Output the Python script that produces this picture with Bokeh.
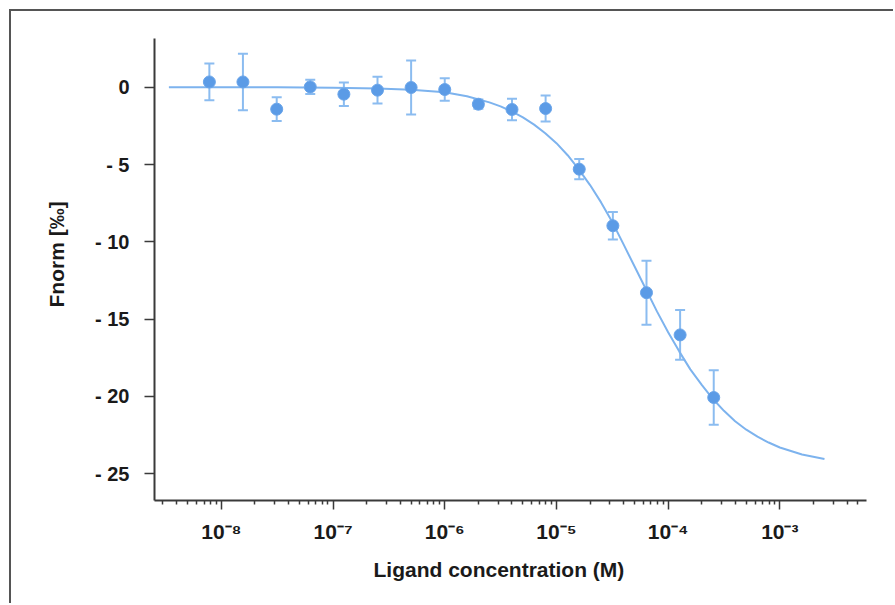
import math
from bokeh.plotting import figure
from bokeh.models import ColumnDataSource, Range1d, FixedTicker, Whisker, TeeHead, Title
from bokeh.embed import file_html
from bokeh.resources import INLINE

# ---- data ----
conc = [7.81e-9, 1.56e-8, 3.13e-8, 6.25e-8, 1.25e-7, 2.5e-7, 5e-7, 1e-6,
        2e-6, 4e-6, 8e-6, 1.6e-5, 3.2e-5, 6.4e-5, 1.28e-4, 2.56e-4]
fnorm = [0.34, 0.34, -1.42, 0.02, -0.45, -0.19, -0.02, -0.15,
         -1.10, -1.44, -1.38, -5.30, -8.96, -13.29, -16.02, -20.07]
err = [1.19, 1.83, 0.77, 0.46, 0.76, 0.86, 1.74, 0.73,
       0.30, 0.70, 0.84, 0.66, 0.89, 2.07, 1.61, 1.76]

fit_conc = [3.39e-9, 1e-8, 3.16e-8, 1e-7, 2.51e-7, 5.01e-7, 1e-6, 1.58e-6,
            2.51e-6, 3.16e-6, 3.98e-6, 5.01e-6, 6.31e-6, 7.94e-6, 1e-5,
            1.26e-5, 1.58e-5, 2e-5, 2.51e-5, 3.16e-5, 3.98e-5, 5.01e-5,
            6.31e-5, 7.94e-5, 1e-4, 1.26e-4, 1.58e-4, 2e-4, 2.51e-4, 3.16e-4,
            3.98e-4, 5.01e-4, 6.31e-4, 7.94e-4, 1e-3, 1.58e-3, 2.51e-3]
fit_fnorm = [0.0, 0.0, -0.01, -0.03, -0.08, -0.17, -0.32, -0.58,
             -0.98, -1.24, -1.56, -1.95, -2.42, -2.98, -3.62,
             -4.40, -5.30, -6.33, -7.45, -8.72, -10.15, -11.60,
             -13.05, -14.50, -15.85, -17.10, -18.25, -19.25, -20.15, -20.93,
             -21.60, -22.15, -22.60, -22.98, -23.30, -23.75, -24.05]

y_ticks = [0, -5, -10, -15, -20, -25]
y_tick_labels = ["0", "- 5", "- 10", "- 15", "- 20", "- 25"]
x_ticks = [1e-8, 1e-7, 1e-6, 1e-5, 1e-4, 1e-3]
x_tick_labels = ["10\u207b\u2078", "10\u207b\u2077", "10\u207b\u2076",
                 "10\u207b\u2075", "10\u207b\u2074", "10\u207b\u00b3"]
x_minor = [k * 10.0 ** d for d in range(-9, -2) for k in range(2, 10)]

x_title = "Ligand concentration (M)"
y_title = "Fnorm [\u2030]"

FONT = "Liberation Sans"
TXT = "#1a1a1a"
AX = "#3a3a3a"
DOT = "#5b9be6"
BAR = "#8bbcf0"
CURVE = "#7db3ee"

p = figure(width=884, height=594, x_axis_type="log",
           x_range=Range1d(2.52e-9, 5.97e-3), y_range=Range1d(-26.73, 3.15),
           output_backend="svg", toolbar_location=None,
           min_border_left=143, min_border_right=29,
           min_border_top=27, min_border_bottom=105)
p.margin = (9, 0, 0, 9)
p.styles = {"border-left": "2px solid #555555", "border-top": "2px solid #555555"}
p.outline_line_color = None
p.xgrid.visible = False
p.ygrid.visible = False
p.background_fill_color = "white"
p.border_fill_color = "white"

src = ColumnDataSource(dict(x=conc, y=fnorm,
                            lo=[v - e for v, e in zip(fnorm, err)],
                            hi=[v + e for v, e in zip(fnorm, err)]))
fit = ColumnDataSource(dict(x=fit_conc, y=fit_fnorm))

p.line("x", "y", source=fit, line_color=CURVE, line_width=2)
wh = Whisker(source=src, base="x", lower="lo", upper="hi", dimension="height",
             line_color=BAR, line_width=2, level="underlay",
             upper_head=TeeHead(size=10, line_color=BAR, line_width=2),
             lower_head=TeeHead(size=10, line_color=BAR, line_width=2))
p.add_layout(wh)
p.scatter("x", "y", source=src, size=12, fill_color=DOT, line_color="#6aa5ea",
          line_width=1)

# y axis
ya = p.yaxis[0]
ya.ticker = FixedTicker(ticks=y_ticks)
ya.major_label_overrides = {t: l for t, l in zip(y_ticks, y_tick_labels)}
ya.minor_tick_line_color = None
ya.major_tick_out = 10
ya.major_tick_in = 0
ya.major_tick_line_width = 1.5
ya.major_tick_line_color = AX
ya.axis_line_width = 2
ya.axis_line_color = AX
ya.major_label_standoff = 15
ya.major_label_text_font = FONT
ya.major_label_text_font_style = "bold"
ya.major_label_text_font_size = "20px"
ya.major_label_text_color = TXT

# x axis
xa = p.xaxis[0]
xa.ticker = FixedTicker(ticks=x_ticks, minor_ticks=x_minor)
xa.major_label_overrides = {t: l for t, l in zip(x_ticks, x_tick_labels)}
xa.major_tick_out = 9
xa.major_tick_in = 0
xa.minor_tick_out = 4
xa.minor_tick_in = 0
xa.major_tick_line_width = 1.5
xa.minor_tick_line_width = 1.5
xa.major_tick_line_color = AX
xa.minor_tick_line_color = AX
xa.axis_line_width = 2
xa.axis_line_color = AX
xa.major_label_standoff = 10
xa.major_label_text_font = FONT
xa.major_label_text_font_style = "bold"
xa.major_label_text_font_size = "21px"
xa.major_label_text_color = TXT

# axis titles as side titles (offset along the axis from the frame edge)
p.add_layout(Title(text=x_title, align="left", offset=219, standoff=20,
                   text_font=FONT, text_font_style="bold", text_font_size="21px",
                   text_color=TXT), "below")
p.add_layout(Title(text=y_title, align="left", offset=193, standoff=50,
                   text_font=FONT, text_font_style="bold", text_font_size="21px",
                   text_color=TXT), "left")

open("out.html", "w").write(file_html(p, INLINE))
